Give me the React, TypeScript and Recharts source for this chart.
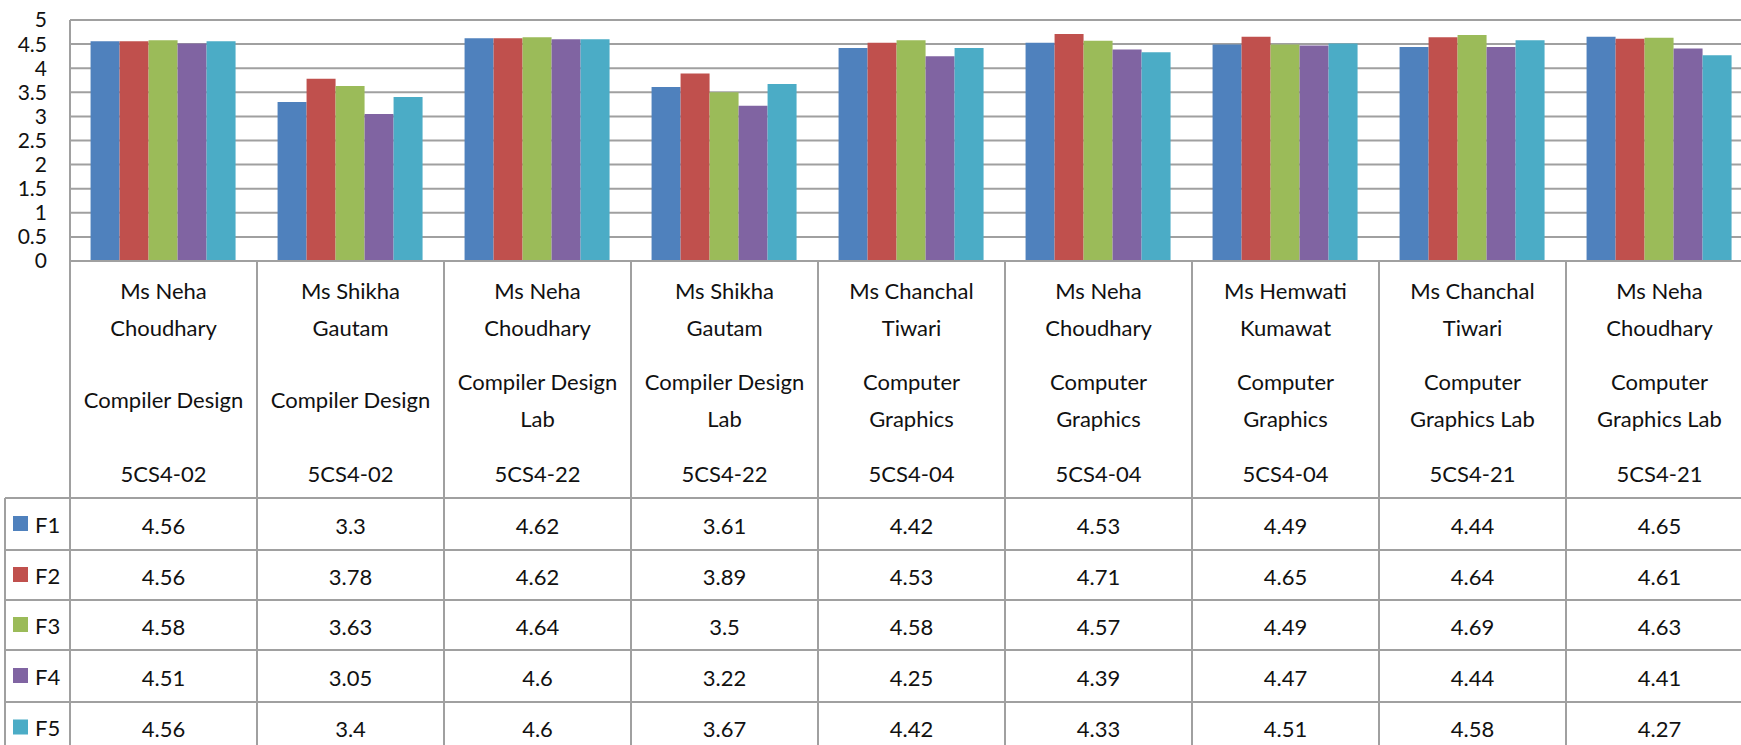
import React from "react";
import { BarChart, Bar, XAxis, YAxis, CartesianGrid } from "recharts";

const nameLine1 = ["Ms Neha", "Ms Shikha", "Ms Neha", "Ms Shikha", "Ms Chanchal", "Ms Neha", "Ms Hemwati", "Ms Chanchal", "Ms Neha"];
const nameLine2 = ["Choudhary", "Gautam", "Choudhary", "Gautam", "Tiwari", "Choudhary", "Kumawat", "Tiwari", "Choudhary"];
const subjects = [
  ["Compiler Design"],
  ["Compiler Design"],
  ["Compiler Design", "Lab"],
  ["Compiler Design", "Lab"],
  ["Computer", "Graphics"],
  ["Computer", "Graphics"],
  ["Computer", "Graphics"],
  ["Computer", "Graphics Lab"],
  ["Computer", "Graphics Lab"],
];
const codes = ["5CS4-02", "5CS4-02", "5CS4-22", "5CS4-22", "5CS4-04", "5CS4-04", "5CS4-04", "5CS4-21", "5CS4-21"];

const F1 = [4.56, 3.3, 4.62, 3.61, 4.42, 4.53, 4.49, 4.44, 4.65];
const F2 = [4.56, 3.78, 4.62, 3.89, 4.53, 4.71, 4.65, 4.64, 4.61];
const F3 = [4.58, 3.63, 4.64, 3.5, 4.58, 4.57, 4.49, 4.69, 4.63];
const F4 = [4.51, 3.05, 4.6, 3.22, 4.25, 4.39, 4.47, 4.44, 4.41];
const F5 = [4.56, 3.4, 4.6, 3.67, 4.42, 4.33, 4.51, 4.58, 4.27];

const seriesNames = ["F1", "F2", "F3", "F4", "F5"];
const seriesValues = [F1, F2, F3, F4, F5];
const colors = ["#4F81BD", "#C0504D", "#9BBB59", "#8064A2", "#4BACC6"];
const yTicks = [0, 0.5, 1, 1.5, 2, 2.5, 3, 3.5, 4, 4.5, 5];

const data = codes.map((c, i) => {
  const row: any = { cat: String(i) };
  seriesNames.forEach((s, k) => (row[s] = seriesValues[k][i]));
  return row;
});

const FONT = "Lato, 'Open Sans', sans-serif";
const FS = 22;
const LINE = "#A0A0A0";
const CHART_W = 1753;
const LEFT = 70;
const BAND = (CHART_W - LEFT) / codes.length;
const ROW_TOPS = [237, 289, 339, 389, 441, 492];

const XTick = (props: any) => {
  const { x, y, index } = props;
  const i = index as number;
  const half = BAND / 2;
  const subj = subjects[i];
  const subjY = subj.length === 1 ? [138] : [120, 157];
  const txt = (t: string, yy: number, key: string, xx = x, anchor = "middle") => (
    <text key={key} x={xx} y={yy} textAnchor={anchor} dominantBaseline="central" fontFamily={FONT} fontSize={FS} fill="#111">
      {t}
    </text>
  );
  return (
    <g>
      {i === 0 && (
        <g>
          <line x1={x - half} y1={y} x2={x - half} y2={y + 520} stroke={LINE} strokeWidth={2} />
          <line x1={5} y1={y + ROW_TOPS[0]} x2={5} y2={y + 520} stroke={LINE} strokeWidth={2} />
          {ROW_TOPS.map((r, k) => (
            <line key={"h" + k} x1={5} y1={y + r} x2={1760} y2={y + r} stroke={LINE} strokeWidth={2} />
          ))}
          {seriesNames.map((s, k) => {
            const cy = y + (ROW_TOPS[k] + ROW_TOPS[k + 1]) / 2;
            return (
              <g key={"lg" + k}>
                <rect x={13} y={cy - 8} width={15} height={15} fill={colors[k]} />
                {txt(s, cy, "lt" + k, 35, "start")}
              </g>
            );
          })}
        </g>
      )}
      <line x1={x + half} y1={y} x2={x + half} y2={y + 520} stroke={LINE} strokeWidth={2} />
      {txt(nameLine1[i], y + 29, "n1")}
      {txt(nameLine2[i], y + 66, "n2")}
      {subj.map((s, k) => txt(s, y + subjY[k], "s" + k))}
      {txt(codes[i], y + 212, "c")}
      {seriesValues.map((vals, k) => txt(String(vals[i]), y + (ROW_TOPS[k] + ROW_TOPS[k + 1]) / 2 + 1, "v" + k))}
    </g>
  );
};

export default function App() {
  return (
    <div style={{ position: "fixed", left: 0, top: 0, width: 1741, height: 745, overflow: "hidden", background: "#fff" }}>
      <BarChart
        width={CHART_W}
        height={780}
        data={data}
        margin={{ top: 20, right: 0, bottom: 0, left: 0 }}
        barCategoryGap="11%"
        barGap={0}
      >
        <CartesianGrid vertical={false} stroke={LINE} strokeWidth={2} />
        <YAxis
          width={LEFT}
          domain={[0, 5]}
          ticks={yTicks}
          interval={0}
          tickLine={false}
          tickSize={0}
          tickMargin={23}
          axisLine={{ stroke: LINE, strokeWidth: 2 }}
          tick={{ fontFamily: FONT, fontSize: 21, fill: "#111" }}
        />
        <XAxis
          dataKey="cat"
          height={519}
          interval={0}
          tickLine={false}
          tickSize={0}
          tickMargin={0}
          axisLine={{ stroke: LINE, strokeWidth: 2 }}
          tick={<XTick />}
        />
        {seriesNames.map((s, k) => (
          <Bar key={s} dataKey={s} fill={colors[k]} isAnimationActive={false} />
        ))}
      </BarChart>
    </div>
  );
}
